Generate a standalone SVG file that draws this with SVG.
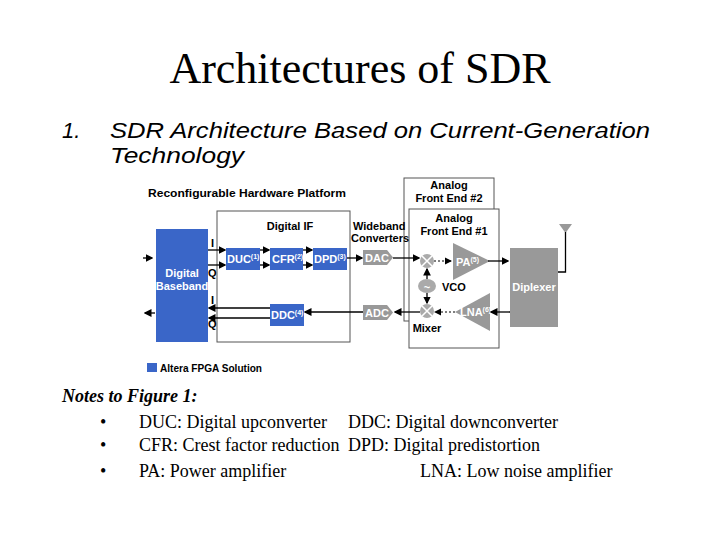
<svg xmlns="http://www.w3.org/2000/svg" width="720" height="540" viewBox="0 0 720 540">
<style>
.s{font-family:"Liberation Serif",serif}
.a{font-family:"Liberation Sans",Arial,sans-serif}
.f{font-family:"Liberation Sans",Arial,sans-serif;font-weight:bold;font-size:11px}
.w{fill:#fff}
.bl{fill:#3a66c8}
.gr{fill:#999}
.ln{stroke:#000;stroke-width:1.3;fill:none}
.dl{stroke:#000;stroke-width:1.2;fill:none;stroke-dasharray:2 2}
</style>
<defs><marker id="ar" markerWidth="6" markerHeight="6" refX="5" refY="3" orient="auto"><path d="M0,0L6,3L0,6z"/></marker></defs>
<rect width="720" height="540" fill="#fff"/>
<text class="s" x="360" y="83" font-size="44" text-anchor="middle">Architectures of SDR</text>
<text class="a" x="62" y="138" font-size="22" font-style="italic">1.</text>
<text class="a" x="110" y="138" font-size="22" font-style="italic" textLength="540" lengthAdjust="spacingAndGlyphs">SDR Architecture Based on Current-Generation</text>
<text class="a" x="110" y="163" font-size="22" font-style="italic" textLength="134" lengthAdjust="spacingAndGlyphs">Technology</text>
<text class="f" x="148" y="197" font-size="13" textLength="198" lengthAdjust="spacingAndGlyphs">Reconfigurable Hardware Platform</text>
<g id="afe2"><rect x="404" y="178" width="90" height="143" fill="#fff" stroke="#555"/><text class="f" x="449" y="189" text-anchor="middle">Analog</text><text class="f" x="449" y="202" text-anchor="middle">Front End #2</text></g>
<g id="afe1"><rect x="409" y="209" width="90" height="139" fill="#fff" stroke="#555"/><text class="f" x="454" y="222" text-anchor="middle">Analog</text><text class="f" x="454" y="235" text-anchor="middle">Front End #1</text></g>
<g id="digif"><rect x="217" y="211" width="133" height="131" fill="#fff" stroke="#555"/><text class="f" x="290" y="230" text-anchor="middle" font-size="12">Digital IF</text></g>
<g id="bb"><rect class="bl" x="156" y="229" width="52" height="113"/><text class="f w" x="182" y="277" text-anchor="middle">Digital</text><text class="f w" x="182" y="290" text-anchor="middle">Baseband</text></g>
<g id="duc"><rect class="bl" x="226" y="248" width="34" height="22"/><text class="f w" x="227" y="263">DUC<tspan font-size="7" dy="-4">(1)</tspan></text></g>
<g id="cfr"><rect class="bl" x="270" y="248" width="33" height="22"/><text class="f w" x="272" y="263">CFR<tspan font-size="7" dy="-4">(2)</tspan></text></g>
<g id="dpd"><rect class="bl" x="313" y="248" width="34" height="22"/><text class="f w" x="314" y="263">DPD<tspan font-size="7" dy="-4">(3)</tspan></text></g>
<g id="ddc"><rect class="bl" x="270" y="304" width="34" height="22"/><text class="f w" x="271" y="319">DDC<tspan font-size="7" dy="-4">(4)</tspan></text></g>
<text class="f" x="353" y="230" font-size="10">Wideband</text><text class="f" x="351" y="242" font-size="10">Converters</text>
<g id="dac"><path class="gr" d="M363,250H387L393,257.5L387,265H363z"/><text class="f w" x="365" y="262">DAC</text></g>
<g id="adc"><path class="gr" d="M363,305H387L393,312.5L387,320H363z"/><text class="f w" x="365" y="317">ADC</text></g>
<g id="mix1"><circle cx="427" cy="261" r="7" fill="#aaa"/><path d="M422,256L432,266M432,256L422,266" stroke="#fff" stroke-width="1.5"/></g>
<g id="mix2"><circle cx="427" cy="311" r="7" fill="#aaa"/><path d="M422,306L432,316M432,306L422,316" stroke="#fff" stroke-width="1.5"/></g>
<text class="f" x="427" y="332" text-anchor="middle" font-size="10">Mixer</text>
<g id="vco"><ellipse cx="427" cy="286" rx="9" ry="7" fill="#aaa"/><text class="f w" x="427" y="291" text-anchor="middle" font-size="12">~</text><text class="f" x="442" y="291" font-size="10">VCO</text></g>
<g id="pa"><path class="gr" d="M453,243L490,261L453,280z"/><text class="f w" x="456" y="266">PA<tspan font-size="7" dy="-4">(5)</tspan></text></g>
<g id="lna"><path class="gr" d="M490,293L455,312L490,331z"/><text class="f w" x="460" y="316">LNA<tspan font-size="7" dy="-4">(6)</tspan></text></g>
<g id="dip"><rect class="gr" x="510" y="248" width="48" height="79"/><text class="f w" x="534" y="291" text-anchor="middle">Diplexer</text></g>
<g id="ant"><path class="gr" d="M559,224H572L565.5,233z"/><path class="ln" d="M565.5,232V272H558" stroke-width="1.5"/></g>
<g id="connectors">
<path class="ln" d="M143,258H152" marker-end="url(#ar)"/>
<path class="ln" d="M155,313H145" marker-end="url(#ar)"/>
<path class="ln" d="M208,250H225" marker-end="url(#ar)" stroke-width="1.8"/>
<path class="ln" d="M208,265H225" marker-end="url(#ar)"/>
<path class="ln" d="M260,250H269" marker-end="url(#ar)"/>
<path class="ln" d="M260,265H269" marker-end="url(#ar)"/>
<path class="ln" d="M303,250H312" marker-end="url(#ar)"/>
<path class="ln" d="M303,265H312" marker-end="url(#ar)"/>
<path class="ln" d="M347,258H362" marker-end="url(#ar)"/>
<path class="ln" d="M393,258H419" marker-end="url(#ar)"/>
<path class="dl" d="M434,261H451" marker-end="url(#ar)"/>
<path class="ln" d="M488,261H508" marker-end="url(#ar)"/>
<path class="ln" d="M510,312H491" marker-end="url(#ar)"/>
<path class="dl" d="M455,312H435" marker-end="url(#ar)"/>
<path class="ln" d="M420,312H395" marker-end="url(#ar)"/>
<path class="ln" d="M363,312H305" marker-end="url(#ar)"/>
<path class="ln" d="M270,308H209" marker-end="url(#ar)"/>
<path class="ln" d="M270,318H209" marker-end="url(#ar)"/>
<path class="ln" d="M427,279V269" marker-end="url(#ar)"/>
<path class="ln" d="M427,293V303" marker-end="url(#ar)"/>
</g>
<text class="f" x="211" y="247" font-size="10">I</text><text class="f" x="208" y="277" font-size="10">Q</text>
<text class="f" x="211" y="304" font-size="10">I</text><text class="f" x="208" y="328" font-size="10">Q</text>
<rect class="bl" x="147" y="363" width="10" height="9"/>
<text class="f" x="160" y="372" textLength="102" lengthAdjust="spacingAndGlyphs">Altera FPGA Solution</text>
<g class="s" font-size="18">
<text x="62" y="402" font-weight="bold" font-style="italic">Notes to Figure 1:</text>
<text x="100" y="428">•</text><text x="139" y="428">DUC: Digital upconverter</text><text x="348" y="428">DDC: Digital downconverter</text>
<text x="100" y="451">•</text><text x="139" y="451">CFR: Crest factor reduction</text><text x="348" y="451">DPD: Digital predistortion</text>
<text x="100" y="477">•</text><text x="139" y="477">PA: Power amplifier</text><text x="420" y="477">LNA: Low noise amplifier</text>
</g>
</svg>
